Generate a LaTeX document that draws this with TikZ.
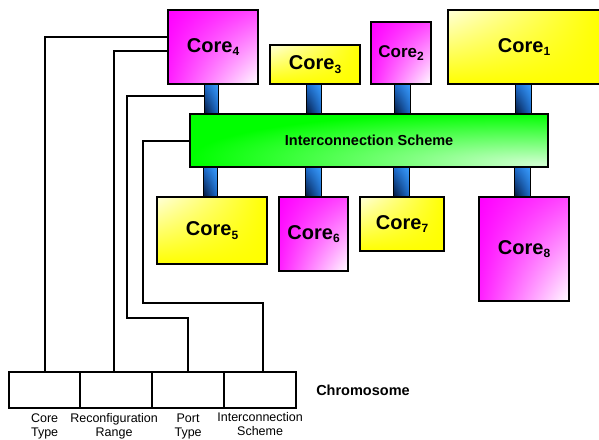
\documentclass[tikz,border=0pt]{standalone}
\usepackage{fontspec}
\setmainfont{Liberation Sans}
\usetikzlibrary{calc,shadings}

% soft highlight for the interconnection bar
\pgfdeclareradialshading{icglow}{\pgfpoint{24bp}{-22bp}}{%
  color(0bp)=(green!18!white); color(16bp)=(green!50!white);
  color(42bp)=(green); color(150bp)=(green)}

\newcommand\coresub[1]{\raisebox{-3.5pt}{\fontsize{12}{12}\selectfont #1}}
\newcommand\corelabel[1]{Core\coresub{#1}}

\definecolor{busdark}{RGB}{6,24,60}
\definecolor{busmid}{RGB}{28,110,210}
\definecolor{buslight}{RGB}{60,160,255}

\tikzset{
  box/.style={draw=black, line width=2.2pt, inner sep=0pt, anchor=north west,
    font=\fontsize{20}{24}\selectfont\bfseries},
  magbox/.style={box, upper left=magenta, upper right=magenta!72!white,
    lower left=magenta!88!white, lower right=white},
  yelbox/.style={box, upper left=yellow!15!white, upper right=yellow,
    lower left=yellow, lower right=yellow},
  link/.style={draw=black, line width=1.2pt, inner sep=0pt, anchor=north west,
    minimum height=30pt,
    upper left=busmid, upper right=buslight,
    lower left=busdark, lower right=busmid},
  cell/.style={draw=black, line width=2.2pt, inner sep=0pt, anchor=north west,
    minimum width=72pt, minimum height=36pt},
  gene/.style={anchor=north, inner sep=0pt, align=center,
    font=\fontsize{12.5}{14.5}\selectfont},
  wire/.style={draw=black, line width=2pt}
}

\begin{document}
\begin{tikzpicture}[x=1pt, y=-1pt]
\useasboundingbox (0,0) rectangle (599,439);

% bus links between cores and the interconnection bar
\node[link, minimum width=14pt] (l4) at (204,83)  {};
\node[link, minimum width=15pt] (l3) at (306,83)  {};
\node[link, minimum width=16pt] (l2) at (394,83)  {};
\node[link, minimum width=16pt] (l1) at (515,83)  {};
\node[link, minimum width=14pt] (l5) at (203,166) {};
\node[link, minimum width=16pt] (l6) at (305,166) {};
\node[link, minimum width=16pt] (l7) at (393,166) {};
\node[link, minimum width=16pt] (l8) at (514,166) {};

% interconnection bar
\node[box, shading=icglow, minimum width=358pt, minimum height=53pt,
  font=\fontsize{14.5}{17}\selectfont\bfseries] (ic) at (189,113)
  {Interconnection Scheme};

% cores above the bar
\node[magbox, minimum width=90pt,  minimum height=74pt] (c4) at (167,9)  {\corelabel{4}};
\node[yelbox, minimum width=90pt,  minimum height=39pt] (c3) at (269,44) {\corelabel{3}};
\node[magbox, minimum width=60pt,  minimum height=62pt,
  font=\fontsize{17}{20}\selectfont\bfseries] (c2) at (370,21) {\corelabel{2}};
\node[yelbox, minimum width=152pt, minimum height=74pt] (c1) at (447,9)  {\corelabel{1}};

% cores below the bar
\node[yelbox, minimum width=110pt, minimum height=67pt]  (c5) at (156,196) {\corelabel{5}};
\node[magbox, minimum width=69pt,  minimum height=74pt]  (c6) at (278,196) {\corelabel{6}};
\node[yelbox, minimum width=84pt,  minimum height=54pt]  (c7) at (359,196) {\corelabel{7}};
\node[magbox, minimum width=90pt,  minimum height=104pt] (c8) at (478,196) {\corelabel{8}};

% chromosome cells
\node[cell, minimum width=71pt] (ct) at (8,371)   {};
\node[cell] (rr) at (79,371)  {};
\node[cell] (pt) at (151,371) {};
\node[cell] (is) at (223,371) {};

\node[gene] (tct) at ($(ct.south)+(0,4)$) {Core\\Type};
\node[gene] (trr) at ($(rr.south)+(-2,4)$) {Reconfiguration\\Range};
\node[gene] (tpt) at ($(pt.south)+(0,4)$) {Port\\Type};
\node[gene] (tis) at ($(is.south)+(0,3)$) {Interconnection\\Scheme};

\node[font=\fontsize{14.5}{17}\selectfont\bfseries, inner sep=0pt] (chr) at (363,390) {Chromosome};

% wires from the system parts down to the genes
\coordinate (pbend) at (127,318);
\coordinate (ibend) at (143,303);
\draw[wire] (ct.north) |- ([yshift=10pt]c4.west);
\draw[wire] ([xshift=-2pt]rr.north) |- ([yshift=-4pt]c4.west);
\draw[wire] ([yshift=3pt]l4.west) -| (pbend) -| (pt.north);
\draw[wire] (ic.west) -| (ibend) -| ([xshift=3pt]is.north);
\end{tikzpicture}
\end{document}
